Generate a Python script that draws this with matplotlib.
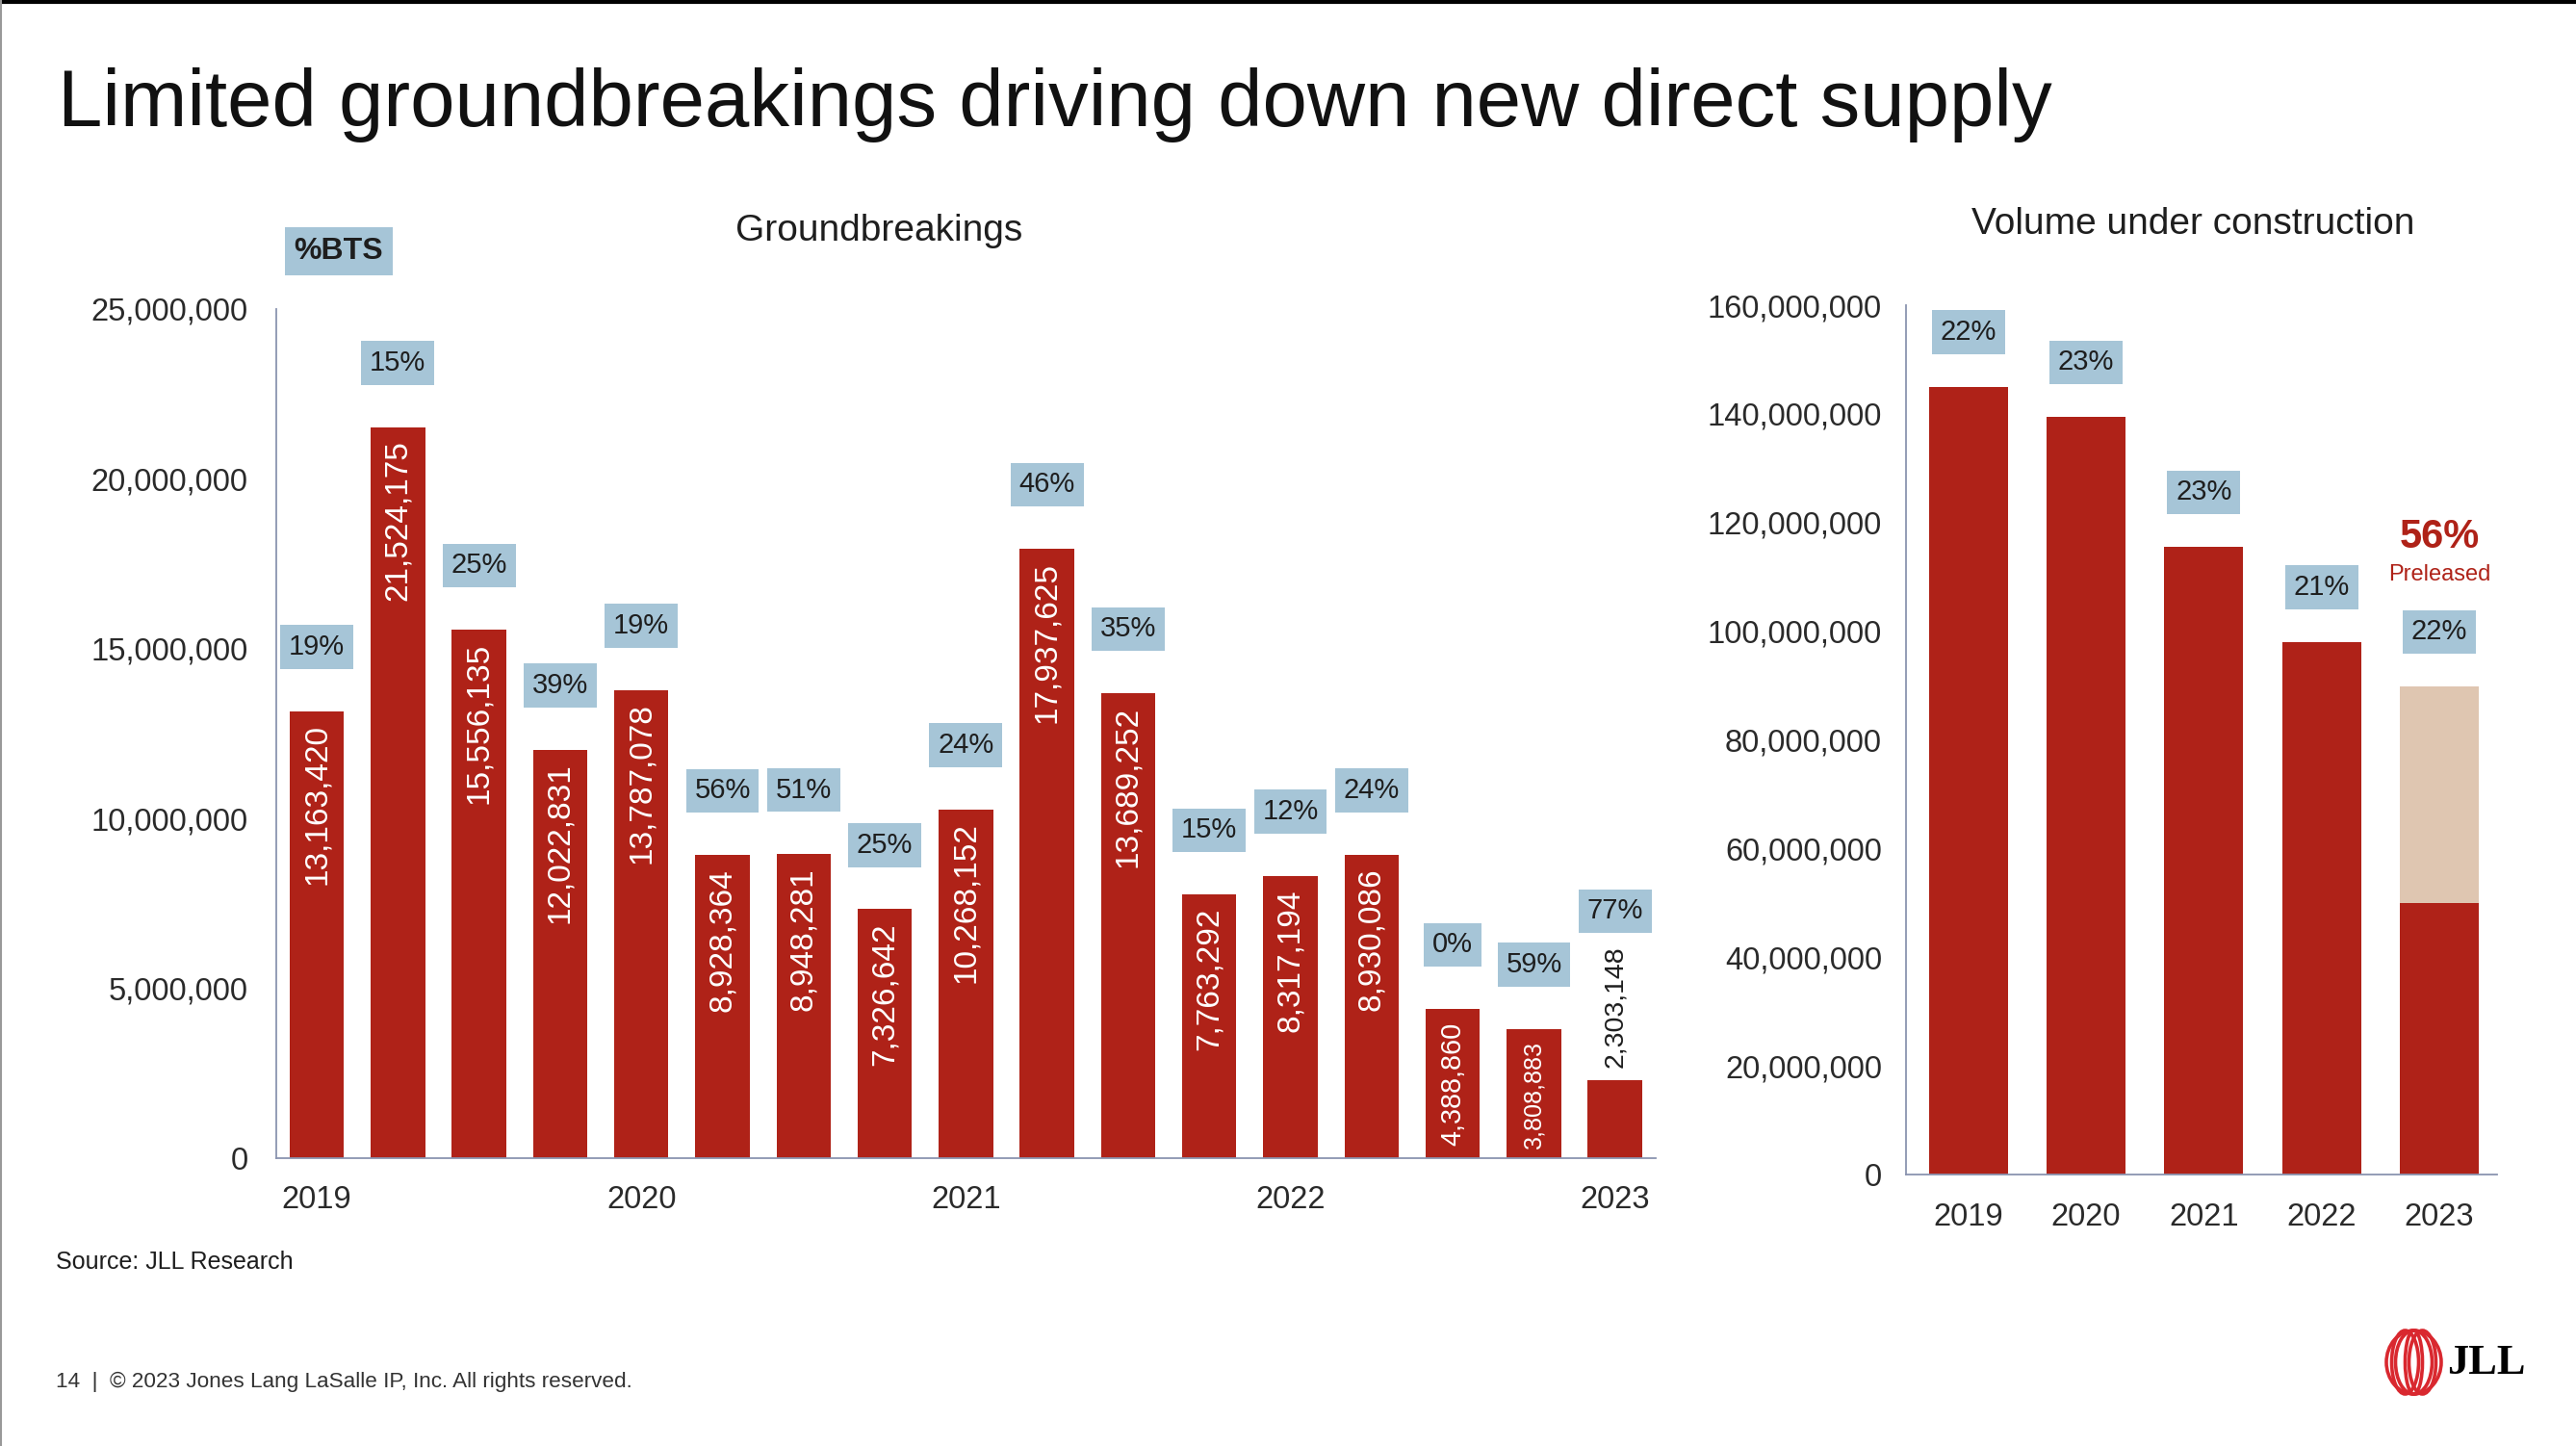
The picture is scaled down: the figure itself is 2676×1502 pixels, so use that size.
import matplotlib
matplotlib.use('Agg')
import matplotlib.pyplot as plt
from matplotlib.patches import Ellipse
from matplotlib.ticker import FuncFormatter
import numpy as np

plt.rcParams.update({'font.family': 'Liberation Sans', 'text.color': '#1e1e1e'})

RED = '#AF2218'
BEIGE = '#DFC6B1'
BOX = '#A6C5D7'
SPINE = '#8A94B0'

# groundbreakings by quarter, 2019 Q1 .. 2023 Q1
gb_values = [13163420, 21524175, 15556135, 12022831, 13787078, 8928364, 8948281,
             7326642, 10268152, 17937625, 13689252, 7763292, 8317194, 8930086,
             4388860, 3808883, 2303148]
gb_bts = ['19%', '15%', '25%', '39%', '19%', '56%', '51%', '25%', '24%', '46%',
          '35%', '15%', '12%', '24%', '0%', '59%', '77%']
gb_year_labels = ['2019', '2020', '2021', '2022', '2023']

# volume under construction
uc_years = ['2019', '2020', '2021', '2022', '2023']
uc_total = [145000000, 139400000, 115500000, 98000000, 89800000]
uc_preleased_2023 = 50000000
uc_bts = ['22%', '23%', '23%', '21%', '22%']

fig = plt.figure(figsize=(26.76, 15.02), dpi=100)

fmt = FuncFormatter(lambda v, p: f'{v:,.0f}')


def style_axis(ax, ypad, xpad):
    for s in ['top', 'right']:
        ax.spines[s].set_visible(False)
    for s in ['left', 'bottom']:
        ax.spines[s].set_color(SPINE)
        ax.spines[s].set_linewidth(1.3)
    ax.yaxis.set_major_formatter(fmt)
    ax.tick_params(axis='y', length=0, pad=ypad, labelsize=23.5, labelcolor='#2a2a2a')
    ax.tick_params(axis='x', length=0, pad=xpad, labelsize=23.5, labelcolor='#2a2a2a')


# ---- left: groundbreakings ----
ax1 = fig.add_axes([0.1072, 0.1991, 0.5355, 0.5872])
x = np.arange(len(gb_values))
ax1.bar(x, gb_values, width=0.67, color=RED)
ax1.set_xlim(-0.5, 16.5)
ax1.set_ylim(0, 25000000)
ax1.set_yticks(np.arange(0, 25000001, 5000000))
ax1.set_xticks(x[::4])
ax1.set_xticklabels(gb_year_labels)
style_axis(ax1, 21, 20)

px_per_unit = 0.5872 * 1502 / 25000000
for i, (v, p) in enumerate(zip(gb_values, gb_bts)):
    txt = f'{v:,}'
    em = sum(0.278 if c == ',' else 0.556 for c in txt)
    fs = min(24, 0.83 * v * px_per_unit / em * 0.72)
    if fs >= 14:
        ax1.annotate(txt, (i, v), xytext=(0, -10), textcoords='offset points',
                     rotation=90, ha='center', va='top', color='white', fontsize=fs)
        off = 48
    else:
        fs = 20.5
        ax1.annotate(txt, (i, v), xytext=(0, 9), textcoords='offset points',
                     rotation=90, ha='center', va='bottom', color='#1e1e1e', fontsize=fs)
        off = 9 + fs * em + 26
    ax1.annotate(p, (i, v), xytext=(0, off), textcoords='offset points',
                 ha='center', va='center', fontsize=21, color='#1e1e1e',
                 bbox=dict(boxstyle='square,pad=0.3', fc=BOX, ec='none'))

# ---- right: under construction ----
ax2 = fig.add_axes([0.7399, 0.1877, 0.2294, 0.6012])
xr = np.arange(len(uc_years))
uc_red = uc_total[:-1] + [uc_preleased_2023]
uc_rest = [0] * (len(uc_total) - 1) + [uc_total[-1] - uc_preleased_2023]
ax2.bar(xr, uc_red, width=0.67, color=RED)
ax2.bar(xr, uc_rest, bottom=uc_red, width=0.67, color=BEIGE)
ax2.set_xlim(-0.53, 4.49)
ax2.set_ylim(0, 160000000)
ax2.set_yticks(np.arange(0, 160000001, 20000000))
ax2.set_xticks(xr)
ax2.set_xticklabels(uc_years)
style_axis(ax2, 18, 21)

for i, (v, p) in enumerate(zip(uc_total, uc_bts)):
    ax2.annotate(p, (i, v), xytext=(0, 41), textcoords='offset points',
                 ha='center', va='center', fontsize=21, color='#1e1e1e',
                 bbox=dict(boxstyle='square,pad=0.3', fc=BOX, ec='none'))

pre_pct = uc_preleased_2023 / uc_total[-1] * 100
ax2.annotate(f'{pre_pct:.0f}%', (4, uc_total[-1]), xytext=(0, 112), textcoords='offset points',
             ha='center', va='center', fontsize=30, fontweight='bold', color=RED)
ax2.annotate('Preleased', (4, uc_total[-1]), xytext=(0, 84), textcoords='offset points',
             ha='center', va='center', fontsize=17, color=RED)

# ---- page text ----
fig.text(0.0224, 0.9128, 'Limited groundbreakings driving down new direct supply',
         fontsize=60, va='baseline', ha='left', color='#111111')
fig.text(0.3412, 0.8400, 'Groundbreakings', fontsize=28, ha='center', va='center')
fig.text(0.8513, 0.8452, 'Volume under construction', fontsize=28, ha='center', va='center')
fig.text(0.1315, 0.8262, '%BTS', fontsize=23, fontweight='bold', ha='center', va='center',
         bbox=dict(boxstyle='square,pad=0.3', fc=BOX, ec='none'))
fig.text(0.0217, 0.1272, 'Source: JLL Research', fontsize=18, va='center')
fig.text(0.0217, 0.0446, '14  |  \u00a9 2023 Jones Lang LaSalle IP, Inc. All rights reserved.',
         fontsize=16.2, va='center', color='#333333')

# slide border
fig.add_artist(plt.Line2D([0, 1], [0.999, 0.999], color='black', lw=3))
fig.add_artist(plt.Line2D([0.0004, 0.0004], [0, 1], color='#999999', lw=1.5))

# JLL logo
lax = fig.add_axes([2470 / 2676, 47 / 1502, 75 / 2676, 80 / 1502])
lax.set_xlim(-37.5, 37.5)
lax.set_ylim(-40, 40)
lax.axis('off')
for w, dx in [(57, 0), (38, 0), (18, 0), (28, -9), (28, 9)]:
    lax.add_patch(Ellipse((dx, 0), w, 66, fill=False, ec='#D9282F', lw=2.6))
fig.text(2542 / 2676, 1 - 1416 / 1502, 'JLL', fontsize=32, fontweight='bold',
         family='Liberation Serif', va='center', ha='left', color='black')

fig.savefig('out.png', dpi=100)
